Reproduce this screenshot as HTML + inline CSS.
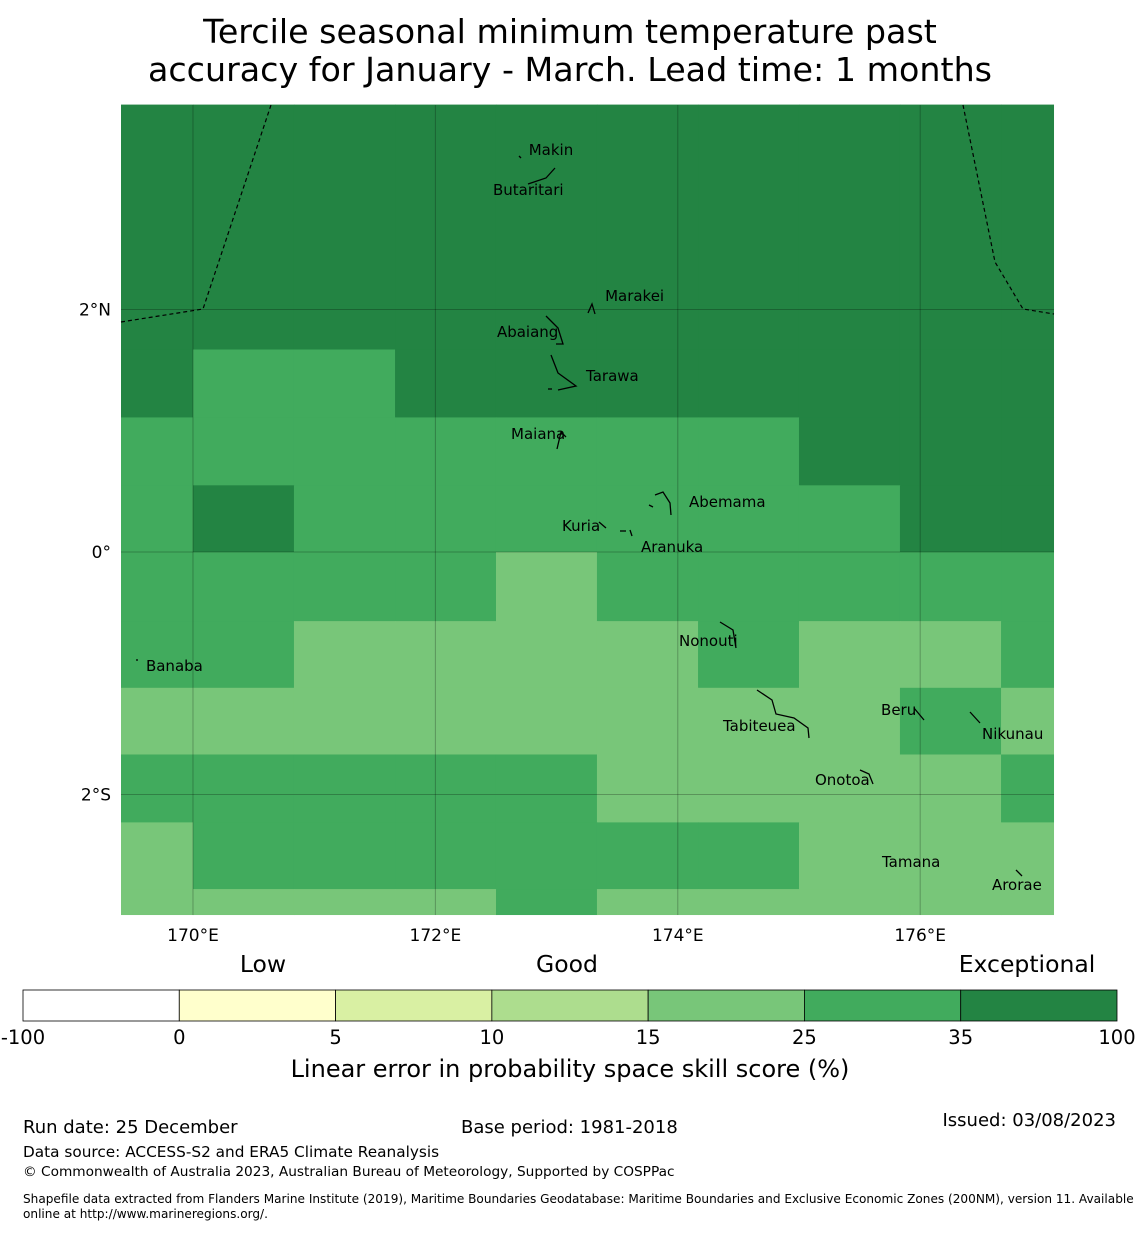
<!DOCTYPE html>
<html><head><meta charset="utf-8"><style>
body{margin:0;background:#fff;font-family:"Liberation Sans","DejaVu Sans",sans-serif;}
svg text{font-family:"DejaVu Sans","Liberation Sans",sans-serif;}
</style></head><body>
<svg width="1140" height="1230" xmlns="http://www.w3.org/2000/svg">
<text x="570" y="43" font-size="33.3" text-anchor="middle">Tercile seasonal minimum temperature past</text>
<text x="570" y="81" font-size="33.3" text-anchor="middle">accuracy for January - March. Lead time: 1 months</text>
<g id="map"></g>
<g id="cbar"></g>
<text x="263" y="972" font-size="23.5" text-anchor="middle">Low</text>
<text x="567" y="972" font-size="23.5" text-anchor="middle">Good</text>
<text x="1027" y="972" font-size="23.5" text-anchor="middle">Exceptional</text>
<text x="570" y="1077" font-size="24" text-anchor="middle">Linear error in probability space skill score (%)</text>
<text x="23" y="1133" font-size="18">Run date: 25 December</text>
<text x="461" y="1133" font-size="18">Base period: 1981-2018</text>
<text x="1116" y="1126" font-size="18" text-anchor="end">Issued: 03/08/2023</text>
<text x="23" y="1157" font-size="15.3">Data source: ACCESS-S2 and ERA5 Climate Reanalysis</text>
<text x="23" y="1176" font-size="13.7">© Commonwealth of Australia 2023, Australian Bureau of Meteorology, Supported by COSPPac</text>
<text x="23" y="1203" font-size="12.1">Shapefile data extracted from Flanders Marine Institute (2019), Maritime Boundaries Geodatabase: Maritime Boundaries and Exclusive Economic Zones (200NM), version 11. Available</text>
<text x="23" y="1218" font-size="12.1">online at http://www.marineregions.org/.</text>
</svg>
<script>
// Grid data (skill score %), rows top->bottom, columns left->right
const lonEdges=[169.406,170,170.833,171.667,172.5,173.333,174.167,175,175.833,176.667,177.1];
const latEdges=[3.69,2.03,1.67,1.11,0.55,0,-0.57,-1.12,-1.67,-2.23,-2.78,-2.99];
const row0=[40,40,40,40,40,40,40,40,40,40];
const row1=[40,40,40,40,40,40,40,40,40,40];
const row2=[40,30,30,40,40,40,40,40,40,40];
const row3=[30,30,30,30,30,30,30,40,40,40];
const row4=[30,40,30,30,30,30,30,30,40,40];
const row5=[30,30,30,30,20,30,30,30,30,30];
const row6=[30,30,20,20,20,20,30,20,20,30];
const row7=[20,20,20,20,20,20,20,20,30,20];
const row8=[30,30,30,30,30,20,20,20,20,30];
const row9=[20,30,30,30,30,30,30,20,20,20];
const row10=[20,20,20,20,30,20,20,20,20,20];
const cbBounds=[-100,0,5,10,15,25,35,100];
const cbColors=['#ffffff','#ffffcc','#d9f0a3','#addd8e','#78c679','#41ab5d','#238443'];
const cbTicks=['-100','0','5','10','15','25','35','100'];
const lonTicks=[170,172,174,176];
const latTicks=[2,0,-2];
const islands=[['Makin',172.77,3.315],['Butaritari',172.475,2.986],['Marakei',173.40,2.111],['Abaiang',172.508,1.814],['Tarawa',173.243,1.452],['Maiana',172.624,0.973],['Abemama',174.092,0.412],['Kuria',173.045,0.214],['Aranuka',173.696,0.041],['Nonouti',174.01,-0.734],['Banaba',169.612,-0.940],['Beru',175.677,-1.303],['Tabiteuea',174.373,-1.435],['Nikunau',176.51,-1.501],['Onotoa',175.132,-1.880],['Tamana',175.685,-2.557],['Arorae',176.592,-2.746]];
const rows=[row0,row1,row2,row3,row4,row5,row6,row7,row8,row9,row10];
const NS='http://www.w3.org/2000/svg';
const X=lon=>121+(lon-169.406)*121.2, Y=lat=>552-lat*121.25;
function col(v){for(let i=cbBounds.length-2;i>=0;i--)if(v>=cbBounds[i])return cbColors[i];return cbColors[0];}
function mk(t,a,p){const e=document.createElementNS(NS,t);for(const k in a)e.setAttribute(k,a[k]);p.appendChild(e);return e;}
const map=document.getElementById('map');
rows.forEach((r,ri)=>r.forEach((v,ci)=>{
 const x0=X(lonEdges[ci]),x1=X(lonEdges[ci+1]),y0=Y(latEdges[ri]),y1=Y(latEdges[ri+1]);
 const c=mk('rect',{x:x0,y:y0,width:x1-x0+0.5,height:y1-y0+0.5,fill:col(v)},map);
 
 
}));
lonTicks.forEach(l=>{const x=X(l);
 mk('line',{x1:x,x2:x,y1:105,y2:915,stroke:'#000','stroke-opacity':0.25,'stroke-width':1},map);
 const t=mk('text',{x:x,y:941,'font-size':17,'text-anchor':'middle'},map);t.textContent=l+'°E';
 
 
});
latTicks.forEach(l=>{const y=Y(l);
 mk('line',{x1:121,x2:1054,y1:y,y2:y,stroke:'#000','stroke-opacity':0.25,'stroke-width':1},map);
 const t=mk('text',{x:111,y:y+6,'font-size':17,'text-anchor':'end'},map);t.textContent=l==0?'0°':Math.abs(l)+'°'+(l>0?'N':'S');
 
 
});
const b1=mk('polyline',{points:'121,322 203,309 271,105',fill:'none',stroke:'#000','stroke-dasharray':'4,3','stroke-width':1.2},map);


const b2=mk('polyline',{points:'963,105 995,262 1023,309 1054,314',fill:'none',stroke:'#000','stroke-dasharray':'4,3','stroke-width':1.2},map);


islands.forEach(d=>{
 const t=mk('text',{x:X(d[1]),y:Y(d[2])+5,'font-size':15,'text-anchor':'start'},map);t.textContent=d[0];
 
 
});
const shapes=['546,316 558,328 563,344 556,344','551,355 558,373 576,386 558,390','557,449 561,432 566,437','655,495 663,492 670,503 671,515','720,622 733,630 736,648','757,690 772,700 776,714 794,718 808,728 809,738','914,708 924,720','970,712 980,723','860,770 869,774 873,784','1016,870 1022,876','528,184 546,178 555,168','588,313 592,304 595,314','519,156 521,158','599,522 606,528','620,531 626,531','630,530 632,536','649,505 653,507','548,389 552,389','136,660 138,660'];
shapes.forEach(p=>{const e=mk('polyline',{points:p,fill:'none',stroke:'#000','stroke-width':1.3},map);
 
 });
const cb=document.getElementById('cbar');
const w=(1117-23)/cbColors.length;
cbColors.forEach((c,i)=>{const r=mk('rect',{x:23+i*w,y:990,width:w,height:31,fill:c,stroke:'#000','stroke-width':0.8},cb);
 
 });
cbTicks.forEach((t,i)=>{const e=mk('text',{x:23+i*w,y:1044,'font-size':19.5,'text-anchor':'middle'},cb);e.textContent=t;
 
 });
</script>
</body></html>
